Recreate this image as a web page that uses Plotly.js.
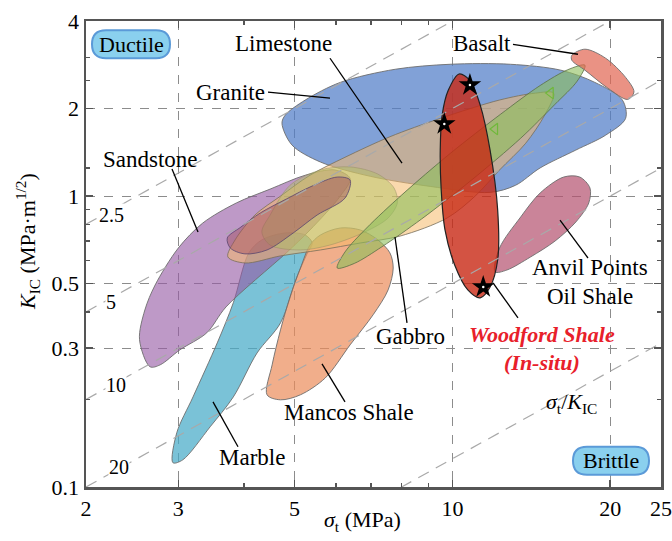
<!DOCTYPE html>
<html><head><meta charset="utf-8">
<script src="https://cdn.plot.ly/plotly-3.0.1.min.js"></script>
<style>html,body{margin:0;padding:0;background:#fff}#chart{width:672px;height:541px}</style>
</head><body><div id="chart"></div>
<script>
// ---- data (sigma_t in MPa, K_IC in MPa m^1/2) ----
const graniteS = [4.73,4.94,5.60,6.97,9.07,11.8,13.2,14.7,17.2,19.6,21.4,21.1,18.7,16.1,12.9,9.9,7.78,6.11,5.24,4.80];
const graniteK = [1.78,1.50,1.31,1.17,1.08,1.03,1.09,1.25,1.44,1.62,1.85,2.14,2.46,2.71,2.84,2.84,2.73,2.46,2.14,1.90];
const sandstoneS = [2.65,2.53,2.59,2.71,3.0,3.34,3.87,4.49,5.24,5.97,6.38,6.11,5.35,4.82,3.70,3.40,3.02,2.77];
const sandstoneK = [0.259,0.321,0.406,0.495,0.663,0.808,0.947,1.057,1.18,1.23,1.15,1.0,0.765,0.638,0.416,0.339,0.296,0.263];
const limestoneS = [15.6,14.4,12.3,9.48,7.60,6.24,5.35,4.70,4.20,3.85,3.73,4.02,4.70,5.60,6.67,7.95,9.77,11.05,12.3,13.8,15.0];
const limestoneK = [2.26,2.26,2.14,1.85,1.60,1.36,1.18,1.0,0.861,0.707,0.618,0.589,0.623,0.653,0.690,0.729,0.841,1.0,1.23,1.52,1.90];
const paleS = [4.49,4.90,5.60,6.38,7.21,7.74,7.85,7.54,6.81,5.84,5.13,4.49,4.33];
const paleK = [0.861,1.09,1.23,1.26,1.19,1.066,0.947,0.841,0.753,0.679,0.653,0.679,0.753];
const roseS = [3.72,3.95,4.30,4.82,5.40,6.03,6.38,6.24,5.52,4.97,4.43,4.02,3.77];
const roseK = [0.718,0.783,0.875,0.977,1.083,1.163,1.136,0.985,0.861,0.747,0.653,0.633,0.663];
const marbleS = [2.93,2.98,3.20,3.56,3.82,4.09,4.33,4.80,5.24,5.40,5.28,5.05,4.70,4.24,3.82,3.45,3.06];
const marbleK = [0.1212,0.1536,0.204,0.313,0.430,0.638,0.707,0.747,0.735,0.690,0.633,0.527,0.3666,0.289,0.204,0.161,0.124];
const mancosS = [4.43,4.53,4.70,4.90,5.13,5.35,5.60,6.11,6.67,7.21,7.60,7.71,7.54,7.06,6.38,5.72,5.13,4.70];
const mancosK = [0.2075,0.263,0.347,0.450,0.566,0.679,0.735,0.777,0.765,0.707,0.638,0.566,0.476,0.391,0.308,0.237,0.2075,0.1994];
const gabbroS = [6.03,6.24,6.86,8.01,9.91,12.37,14.7,16.6,17.9,17.3,15.7,13.5,10.9,8.73,7.34,6.50];
const gabbroK = [0.566,0.643,0.777,1.01,1.403,1.915,2.40,2.72,2.82,2.485,2.07,1.582,1.139,0.834,0.670,0.587];
const basaltS = [16.9,17.9,19.6,21.4,22.2,21.6,19.8,17.9,16.9];
const basaltK = [3.05,3.20,2.98,2.56,2.28,2.15,2.35,2.71,2.93];
const anvilS = [12.06,12.3,13.5,14.7,16.3,17.5,18.3,18.2,17.2,15.7,14.1,12.7];
const anvilK = [0.549,0.663,0.848,1.025,1.163,1.163,1.066,0.947,0.815,0.701,0.618,0.557];
const woodfordS = [10.3,9.82,9.56,9.48,9.52,9.68,10.1,10.7,11.3,11.8,12.2,12.2,11.8,11.3,10.8];
const woodfordK = [2.63,2.31,1.90,1.44,1.05,0.765,0.580,0.476,0.447,0.487,0.603,0.896,1.44,2.055,2.50];
const starS = [10.8, 9.65, 11.45];
const starK = [2.41, 1.77, 0.487];
const triS = [15.4, 12.06];
const triK = [2.26, 1.70];
const ratios = [2.5, 5, 10, 20, 80];
const ratioLabels = ['2.5', '5', '10', '20'];
const xTicks = [2, 3, 5, 10, 20, 25];
const xMinor = [4, 6, 7, 8, 9];
const yTicks = [0.1, 0.3, 0.5, 1, 2, 4];
const yMinor = [0.2, 0.4, 0.6, 0.7, 0.8, 0.9, 1.25, 2.5, 3];

// ---- helpers ----
const L = 86, R = 661, T = 20.7, B = 487.3;
const px = x => (x - L) / (R - L);
const py = y => (B - y) / (B - T);
const SERIF = 'Liberation Serif, Times New Roman, serif';

function region(s, k, fill, line, lw) {
  return {type:'scatter', mode:'lines', x: s.concat([s[0]]), y: k.concat([k[0]]),
    fill:'toself', fillcolor: fill, line:{color: line, width: lw, shape:'spline', smoothing:0.9},
    hoverinfo:'skip', showlegend:false};
}
const edge = 'rgba(110,110,110,0.9)';
const traces = [
  region(graniteS, graniteK, 'rgba(80,125,200,0.72)', edge, 1),
  region(marbleS, marbleK, 'rgba(70,170,200,0.72)', edge, 1),
  region(mancosS, mancosK, 'rgba(235,140,90,0.7)', edge, 1),
  region(sandstoneS, sandstoneK, 'rgba(150,90,165,0.62)', edge, 1),
  region(limestoneS, limestoneK, 'rgba(245,185,105,0.55)', 'rgba(120,110,90,0.8)', 1),
  region(paleS, paleK, 'rgba(175,195,95,0.45)', 'rgba(150,140,100,0.6)', 0.8),
  region(roseS, roseK, 'rgba(160,75,90,0.45)', 'rgba(90,70,110,0.8)', 1),
  region(gabbroS, gabbroK, 'rgba(140,190,90,0.6)', 'rgba(90,110,70,0.8)', 1),
  region(basaltS, basaltK, 'rgba(225,100,80,0.7)', edge, 1),
  region(anvilS, anvilK, 'rgba(180,80,110,0.7)', edge, 1),
  region(woodfordS, woodfordK, 'rgba(200,40,20,0.8)', '#222', 1.2)
];
ratios.forEach(c => {
  traces.push({type:'scatter', mode:'lines', x:[2, 25], y:[2 / c, 25 / c],
    line:{color:'#a9a9a9', width:1.2, dash:'12px,8px'}, hoverinfo:'skip', showlegend:false});
});
traces.push({type:'scatter', mode:'markers', x: triS, y: triK,
  marker:{symbol:'triangle-left-open', size:10, color:'#6fb83a', line:{width:1.2}}, hoverinfo:'skip', showlegend:false});
traces.push({type:'scatter', mode:'markers', x: starS, y: starK,
  marker:{symbol:'star', size:17, color:'#000', line:{width:0}}, hoverinfo:'skip', showlegend:false});
traces.push({type:'scatter', mode:'markers', x: starS, y: starK,
  marker:{symbol:'circle', size:2.5, color:'#fff'}, hoverinfo:'skip', showlegend:false});

// ---- annotations ----
const ann = [];
function txt(t, x, y, size, extra) {
  ann.push(Object.assign({text: t, xref:'paper', yref:'paper', x: px(x), y: py(y),
    xanchor:'center', yanchor:'middle', showarrow:false,
    font:{family: SERIF, size: size, color:'#000'}}, extra || {}));
}
txt('Limestone', 283, 43, 23);
txt('Granite', 230, 92, 23);
txt('Sandstone', 150, 159, 23);
txt('Basalt', 482, 43, 23);
txt('Anvil Points', 590, 268, 23);
txt('Oil Shale', 590, 297, 23);
txt('Gabbro', 410, 337, 23);
txt('Mancos Shale', 349, 413, 23);
txt('Marble', 252, 458, 23);
txt('Ductile', 131, 44, 22);
txt('Brittle', 611, 461, 22);
txt('<b><i>Woodford Shale</i></b>', 542, 335, 22, {font:{family: SERIF, size:22, color:'#e8202a'}});
txt('<b><i>(In-situ)</i></b>', 542, 363, 22, {font:{family: SERIF, size:22, color:'#e8202a'}});
txt('<i>σ</i><sub>t</sub>/<i>K</i><sub>IC</sub>', 571, 403, 22);
const rlPos = [[111, 215], [111, 302], [116, 385], [119, 467]];
ratioLabels.forEach((t, i) => txt(t, rlPos[i][0], rlPos[i][1], 20, {bgcolor:'#fff', borderpad:0}));
txt('<i>σ</i><sub>t</sub> (MPa)', 362, 521, 22);
txt('<i>K</i><sub>IC</sub> (MPa·m<sup>1/2</sup>)', 27, 242, 22, {textangle:-90});

// ---- leader lines and boxes ----
const shapes = [];
function lead(x0, y0, x1, y1) {
  shapes.push({type:'line', xref:'paper', yref:'paper', x0: px(x0), y0: py(y0), x1: px(x1), y1: py(y1),
    line:{color:'#000', width:1.3}});
}
lead(330, 58, 402, 163);
lead(268, 92, 330, 98);
lead(172, 169, 198, 232);
lead(513, 44, 578, 54);
lead(588, 258, 560, 220);
lead(493, 283, 518, 318);
lead(395, 237, 407, 323);
lead(322, 364, 345, 402);
lead(213, 402, 238, 447);
function pill(x0, y0, x1, y1) {
  const r = (y1 - y0) / 2;
  const P = (x, y) => px(x).toFixed(5) + ',' + py(y).toFixed(5);
  const path = 'M' + P(x0 + r, y0) + ' L' + P(x1 - r, y0) + ' Q' + P(x1, y0) + ' ' + P(x1, y0 + r) +
    ' Q' + P(x1, y1) + ' ' + P(x1 - r, y1) + ' L' + P(x0 + r, y1) + ' Q' + P(x0, y1) + ' ' + P(x0, y0 + r) +
    ' Q' + P(x0, y0) + ' ' + P(x0 + r, y0) + ' Z';
  shapes.push({type:'path', xref:'paper', yref:'paper', path: path, fillcolor:'#8ad0ee',
    line:{color:'#5b9ad8', width:2}, layer:'above'});
}
pill(92, 30, 170, 58);
pill(573, 447, 649, 475);

const axBase = {type:'log', showline:true, linecolor:'#555', linewidth:2.5, mirror:'ticks',
  ticks:'inside', ticklen:7, tickwidth:1.5, tickcolor:'#555', showgrid:true, gridcolor:'#8c8c8c',
  griddash:'dash', gridwidth:1, zeroline:false, tickfont:{family: SERIF, size:22, color:'#000'}};
const layout = {
  width:672, height:541, margin:{l:86, r:11, t:21, b:54}, paper_bgcolor:'#fff', plot_bgcolor:'#fff',
  font:{family: SERIF, color:'#000'}, showlegend:false,
  xaxis: Object.assign({}, axBase, {range:[Math.log10(2), Math.log10(25)], tickvals: xTicks,
    ticktext: xTicks.map(String), minor:{tickvals: xMinor, ticks:'inside', ticklen:4, tickcolor:'#555', tickwidth:1.5, showgrid:false}}),
  yaxis: Object.assign({}, axBase, {range:[-1, Math.log10(4)], tickvals: yTicks,
    ticktext: yTicks.map(String), minor:{tickvals: yMinor, ticks:'inside', ticklen:4, tickcolor:'#555', tickwidth:1.5, showgrid:false}}),
  annotations: ann, shapes: shapes
};
Plotly.newPlot('chart', traces, layout, {displayModeBar:false, staticPlot:true});
</script></body></html>
